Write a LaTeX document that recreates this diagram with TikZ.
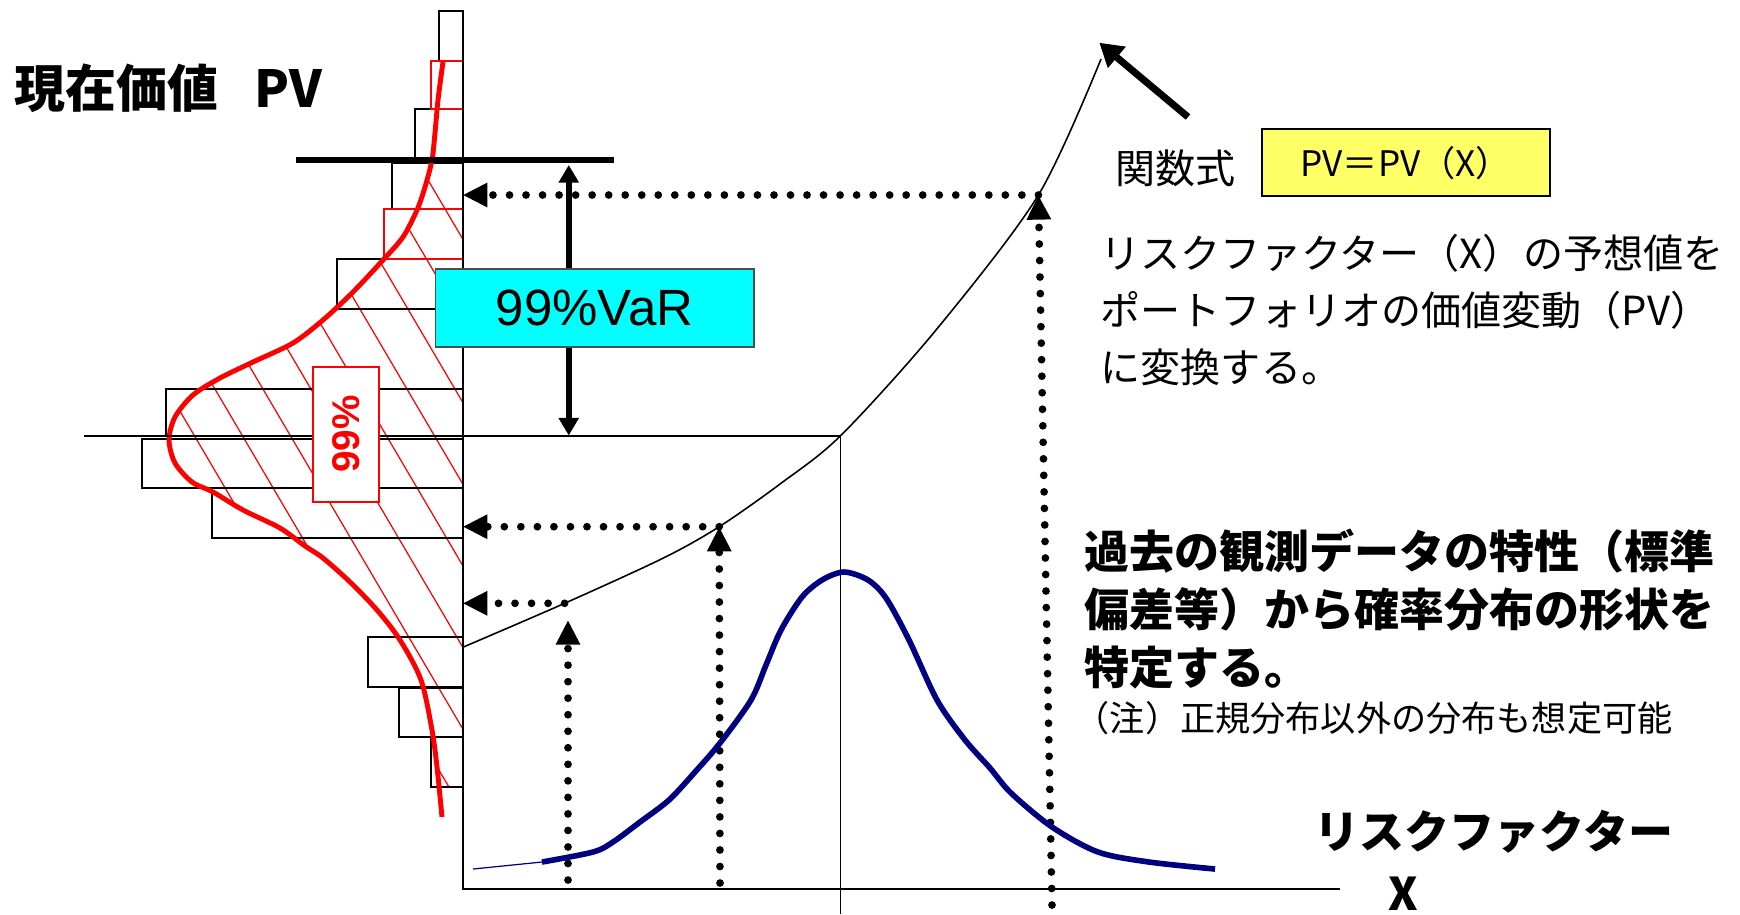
\documentclass[tikz,border=0pt]{standalone}
\usepackage{fontspec}
\setmainfont{Noto Sans CJK JP}
\newfontfamily\arialfont{Liberation Sans}
\usetikzlibrary{arrows.meta,positioning}
\definecolor{varcyan}{RGB}{0,255,255}
\definecolor{fnyellow}{RGB}{255,255,102}
\definecolor{distnavy}{RGB}{0,0,128}
\tikzset{
  histbar/.style={draw=black,line width=0.6pt},
  histbarred/.style={draw=red,line width=0.6pt},
  hatchline/.style={draw=red,line width=0.35pt},
  pvdensity/.style={draw=red,line width=1.4pt,line join=round},
  rfdensity/.style={draw=distnavy,line width=1.6pt,line join=round},
  dotarrow/.style={line width=2.2pt,line cap=round,dash pattern=on 0pt off 4.7pt,
    -{Triangle[length=7pt,width=6.5pt]}},
  vararrow/.style={line width=1.7pt,
    {Triangle[length=5pt,width=5.5pt]}-{Triangle[length=5pt,width=5.5pt]}},
  varbox/.style={draw=black!70,fill=varcyan,line width=0.5pt,minimum width=3.18cm,
    minimum height=0.78cm,inner sep=0pt,font=\arialfont\fontsize{14.5pt}{17pt}\selectfont},
  pctbox/.style={draw=red,fill=white,line width=0.6pt,minimum width=1.35cm,
    minimum height=0.66cm,inner sep=0pt,text=red,
    font=\arialfont\bfseries\fontsize{11pt}{13pt}\selectfont},
  fnbox/.style={draw=black,fill=fnyellow,line width=0.5pt,minimum width=2.88cm,
    minimum height=0.67cm,inner sep=0pt,font=\fontsize{10pt}{12pt}\selectfont},
  titletext/.style={anchor=west,inner sep=0pt,font=\bfseries\fontsize{14.5pt}{17pt}\selectfont},
  bodytext/.style={anchor=west,inner sep=0pt,font=\fontsize{11.4pt}{16.2pt}\selectfont},
  boldtext/.style={anchor=west,inner sep=0pt,font=\bfseries\fontsize{12.8pt}{16.4pt}\selectfont},
  notetext/.style={anchor=west,inner sep=0pt,font=\fontsize{10pt}{12pt}\selectfont},
}
\begin{document}
\begin{tikzpicture}[x=0.01cm,y=-0.01cm]
    \useasboundingbox (0,0) rectangle (1740,914);
    \def\axisx{462.7}
    % hatching inside the red density
    \begin{scope}
        \clip plot[smooth] coordinates {(432,160) (425,187) (417,210) (403,237) (383,260)
            (353,292) (323,320) (293,343) (253,362) (220,378) (193,395) (175,417) (169,440)
            (175,463) (192,482) (213,492) (243,510) (280,528) (305,546) (323,558) (350,582)
            (377,610) (400,640) (421,680) (432,730) (437,767) (439,787)}
            -- (\axisx,787) -- (\axisx,160) -- cycle;
        \foreach \k in {-7,...,7} {
            \draw[hatchline] ({93+48*\k},100) -- ++(441,750);
        }
    \end{scope}
    % histogram of PV
    \foreach \l/\t/\b in {438.7/10.7/60.7, 415.3/109.3/160, 392/163.3/209.3,
        337.3/259.3/309.3, 165.7/388.7/435.7, 142.3/439/488.3, 212.3/488.3/537.7,
        368.3/637/686.7, 399.3/687.7/736.7, 431/736.7/786.7} {
        \draw[histbar] (\l,\t) rectangle (\axisx,\b);
    }
    \foreach \l/\t/\b in {430.7/60.7/109.3, 384/209.3/259.3} {
        \draw[histbarred] (\l,\t) rectangle (\axisx,\b);
    }
    % red density of PV
    \draw[pvdensity] plot[smooth] coordinates {(443,62) (438,100) (435,133) (432,160)
        (425,187) (417,210) (403,237) (383,260) (353,292) (323,320) (293,343) (253,362)
        (220,378) (193,395) (175,417) (169,440) (175,463) (192,482) (213,492) (243,510)
        (280,528) (305,546) (323,558) (350,582) (377,610) (400,640) (421,680) (432,730)
        (437,767) (442,817)};
    % axes
    \coordinate (axtop) at (\axisx,10.7);
    \coordinate (origin) at (\axisx,889.3);
    \coordinate (xend) at (1339.7,889.3);
    \coordinate (meanpv) at (83.8,435.7);
    \coordinate (meanpt) at (840.6,435.7);
    \coordinate (meanx) at (840.6,914);
    \draw[line width=0.6pt] (axtop) -- (origin) -- (xend);
    \draw[line width=0.5pt] (meanpv) -- (meanpt) -- (meanx);
    \draw[line width=1.8pt] (296,160) -- (614,160);
    % 99% VaR
    \coordinate (vartop) at (568.75,165);
    \coordinate (varbot) at (568.75,435.5);
    \draw[vararrow] (vartop) -- (varbot);
    \node[varbox] (var) at (594.6,308.3) {99\%VaR};
    \node[pctbox,rotate=90] (pct) at (345.7,434.2) {99\%};
    % function PV = PV(X)
    \coordinate (pv1) at (564.6,603.3);
    \coordinate (pv2) at (719.2,526.7);
    \coordinate (pv3) at (1038.4,195);
    \draw[line width=0.45pt] plot[smooth] coordinates {(462.7,647.3) (pv1) (663.4,558)
        (pv2) (780,484) (meanpt) (936,330) (pv3) (1101,59)};
    \coordinate (fnend) at (1188,117);
    \coordinate (fntip) at (1099.3,42.7);
    \draw[line width=2pt,-{Triangle[length=6.5pt,width=7.5pt]}] (fnend) -- (fntip);
    % mapping X to PV
    \coordinate (rf1) at (568,880);
    \coordinate (rf1top) at (568,620);
    \coordinate (rf2) at (720,883);
    \coordinate (rf3) at (1052,905);
    \draw[dotarrow] (rf1) -- (rf1top);
    \draw[dotarrow] (rf2) -- (pv2);
    \draw[dotarrow] (rf3) -- (pv3);
    \draw[dotarrow] (pv1) -- (pv1 -| axtop);
    \draw[dotarrow] (pv2) -- (pv2 -| axtop);
    \draw[dotarrow] (pv3) -- (pv3 -| axtop);
    % distribution of the risk factor
    \draw[distnavy,line width=0.35pt] (473,869) -- (542,862);
    \draw[rfdensity] plot[smooth] coordinates {(542,862) (593,852) (613,842) (640,822)
        (669,800) (695,772) (720,743) (751,700) (766,665) (781,630) (802,597) (822,580)
        (844,572) (868,580) (886,598) (909,640) (937,700) (965,740) (990,768) (1011,793)
        (1052,827) (1098,852) (1149,862) (1215,869)};
    % labels
    \node[titletext] (title) at (14,88) {現在価値\hspace{0.7em}PV};
    \node[bodytext] (fnlabel) at (1115,168) {関数式};
    \node[fnbox] (fn) at (1405.8,162.7) {PV＝PV（X）};
    \node[bodytext,align=left] (maptext) at (1100,310)
        {リスクファクター（X）の予想値を\\ポートフォリオの価値変動（PV）\\に変換する。};
    \node[boldtext,align=left] (disttext) at (1084,609)
        {過去の観測データの特性（標準\\偏差等）から確率分布の形状を\\特定する。};
    \node[notetext] (note) at (1074,718) {（注）正規分布以外の分布も想定可能};
    \node[boldtext] (rflabel) at (1314,832) {リスクファクター};
    \node[boldtext,anchor=center] (rfx) at (1403,894) {X};
\end{tikzpicture}
\end{document}
